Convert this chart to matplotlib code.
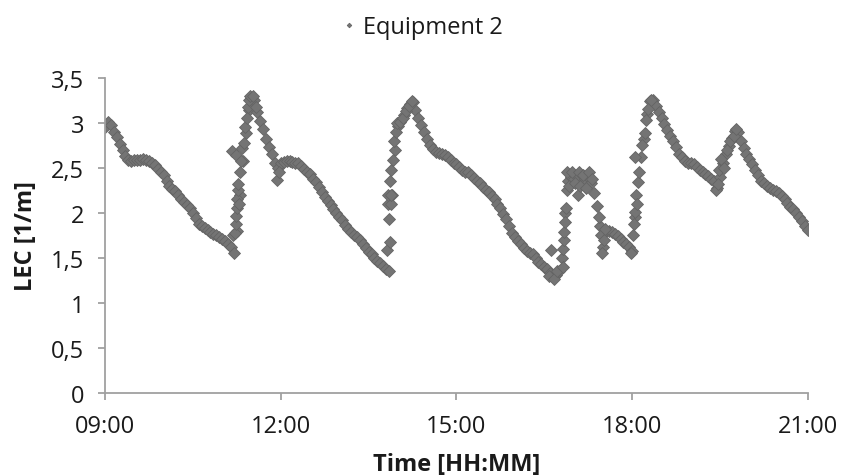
import numpy as np
import matplotlib
matplotlib.use("Agg")
import matplotlib.pyplot as plt
from matplotlib.ticker import FixedLocator, FuncFormatter

plt.rcParams['font.family'] = ['Open Sans', 'DejaVu Sans']

# LEC readings every 3 minutes starting at 09:00 (one row per hour)
lec = [
    2.95, 3.01, 2.98, 2.90, 2.84, 2.77, 2.70, 2.63, 2.59, 2.58, 2.59, 2.59, 2.59, 2.60, 2.59, 2.58, 2.56, 2.53, 2.49, 2.46,  # 09
    2.42, 2.36, 2.30, 2.27, 2.24, 2.20, 2.16, 2.12, 2.09, 2.05, 2.00, 1.94, 1.88, 1.85, 1.83, 1.81, 1.79, 1.77, 1.75, 1.73,  # 10
    1.71, 1.69, 1.66, 1.62, 1.55, 1.80, 2.20, 2.58, 2.89, 3.14, 3.28, 3.26, 3.12, 3.02, 2.93, 2.82, 2.73, 2.66, 2.56, 2.50,  # 11
    2.55, 2.57, 2.58, 2.58, 2.57, 2.56, 2.55, 2.52, 2.49, 2.46, 2.43, 2.38, 2.34, 2.29, 2.23, 2.18, 2.13, 2.09, 2.04, 2.00,  # 12
    1.96, 1.92, 1.87, 1.82, 1.79, 1.76, 1.73, 1.70, 1.66, 1.61, 1.57, 1.54, 1.50, 1.47, 1.44, 1.41, 1.38, 1.35, 2.20, 2.70,  # 13
    2.97, 3.03, 3.09, 3.17, 3.21, 3.23, 3.14, 3.05, 2.98, 2.90, 2.82, 2.75, 2.71, 2.68, 2.67, 2.65, 2.64, 2.62, 2.59, 2.56,  # 14
    2.54, 2.51, 2.48, 2.46, 2.45, 2.42, 2.39, 2.36, 2.33, 2.29, 2.26, 2.23, 2.19, 2.15, 2.10, 2.05, 1.99, 1.93, 1.85, 1.78,  # 15
    1.73, 1.69, 1.65, 1.61, 1.58, 1.56, 1.54, 1.50, 1.46, 1.43, 1.40, 1.38, 1.33, 1.29, 1.31, 1.35, 1.50, 2.00, 2.35, 2.40,  # 16
    2.38, 2.42, 2.40, 2.32, 2.38, 2.40, 2.33, 2.22, 2.08, 1.85, 1.62, 1.80, 1.80, 1.79, 1.77, 1.74, 1.71, 1.68, 1.65, 1.62,  # 17
    1.58, 1.95, 2.34, 2.62, 2.82, 3.10, 3.24, 3.26, 3.19, 3.12, 3.05, 2.99, 2.92, 2.86, 2.80, 2.73, 2.66, 2.62, 2.58, 2.56,  # 18
    2.55, 2.54, 2.51, 2.48, 2.45, 2.43, 2.41, 2.38, 2.35, 2.28, 2.40, 2.55, 2.66, 2.74, 2.83, 2.91, 2.90, 2.80, 2.72, 2.66,  # 19
    2.60, 2.54, 2.48, 2.42, 2.36, 2.33, 2.30, 2.28, 2.26, 2.24, 2.22, 2.19, 2.15, 2.11, 2.07, 2.04, 2.00, 1.96, 1.91, 1.86,  # 20
    1.81,                                                                                                                    # 21
]
step_min = 3

# scattered readings during the fast rises (minutes after 09:00, LEC)
extra_min = [131, 133, 134, 134, 135, 135, 136, 136, 137, 138, 130, 134, 139, 140, 142, 143, 145, 146, 148, 149, 152, 155, 176, 178,
             289, 292, 291, 290, 293, 290, 293, 292, 293, 295, 296, 298, 299, 302, 305, 308, 311, 314,
             457, 455, 460, 463, 469, 469, 470, 470, 471, 472, 473, 473, 475, 478, 481, 484, 486, 487, 490, 493, 496, 499,
             506, 508, 509, 511, 512,
             539, 541, 542, 543, 544, 545, 547, 543, 550, 553, 554, 556, 559,
             626, 628, 629, 631, 634, 637, 640, 644, 646]
extra_lec = [1.76, 1.78, 1.88, 1.97, 2.05, 2.15, 2.25, 2.32, 2.10, 2.45, 2.69, 2.64, 2.58, 2.72, 2.78, 2.95, 3.05, 3.18, 3.25, 3.30, 3.30, 3.18, 2.37, 2.45,
             1.59, 1.68, 1.93, 2.10, 2.10, 2.20, 2.20, 2.36, 2.48, 2.59, 2.80, 2.90, 3.00, 3.01, 3.06, 3.13, 3.19, 3.24,
             1.59, 1.30, 1.27, 1.36, 1.40, 1.60, 1.70, 1.79, 1.90, 2.06, 2.25, 2.45, 2.30, 2.45, 2.33, 2.20, 2.46, 2.30, 2.42, 2.28, 2.45, 2.38,
             1.95, 1.75, 1.55, 1.70, 1.82,
             1.55, 1.75, 1.88, 2.01, 2.20, 2.10, 2.45, 2.62, 2.75, 2.89, 3.03, 3.15, 3.26,
             2.25, 2.32, 2.48, 2.60, 2.50, 2.70, 2.80, 2.86, 2.93]

x_ticks_min = [0, 180, 360, 540, 720]
x_tick_labels = ["09:00", "12:00", "15:00", "18:00", "21:00"]
y_ticks = [0, 0.5, 1, 1.5, 2, 2.5, 3, 3.5]

t = np.arange(len(lec)) * step_min
all_t = np.concatenate([t, extra_min])
all_v = np.concatenate([lec, extra_lec])

fig = plt.figure(figsize=(8.44, 4.77), dpi=100)
ax = fig.add_axes([0.1244, 0.1740, 0.8329, 0.6604])

ax.plot(all_t, all_v, linestyle="none", marker="D", markersize=5.8,
        markerfacecolor="#747474", markeredgecolor="#646464", markeredgewidth=0.6,
        label="Equipment 2")

ax.set_xlim(0, 720)
ax.set_ylim(0, 3.5)
ax.xaxis.set_major_locator(FixedLocator(x_ticks_min))
ax.set_xticklabels(x_tick_labels)
ax.yaxis.set_major_locator(FixedLocator(y_ticks))
ax.yaxis.set_major_formatter(FuncFormatter(lambda v, p: f"{v:g}".replace(".", ",")))

for s in ["top", "right"]:
    ax.spines[s].set_visible(False)
for s in ["left", "bottom"]:
    ax.spines[s].set_color("#a0a0a0")
    ax.spines[s].set_linewidth(1.3)
ax.tick_params(colors="#a0a0a0", labelcolor="#1a1a1a", labelsize=17, length=5, width=1.3)
ax.tick_params(axis="x", pad=10)
ax.tick_params(axis="y", pad=10)

ax.set_xlabel("Time [HH:MM]", fontsize=17, fontweight="bold", color="#1a1a1a", labelpad=10)
ax.set_ylabel("LEC [1/m]", fontsize=17, fontweight="bold", color="#1a1a1a", labelpad=9)

fig.legend(loc="upper center", bbox_to_anchor=(0.5, 1.01), frameon=False, fontsize=17,
           markerscale=0.4, handlelength=0.6, handletextpad=0.3, labelcolor="#1a1a1a")

fig.savefig("out.png", dpi=100)
